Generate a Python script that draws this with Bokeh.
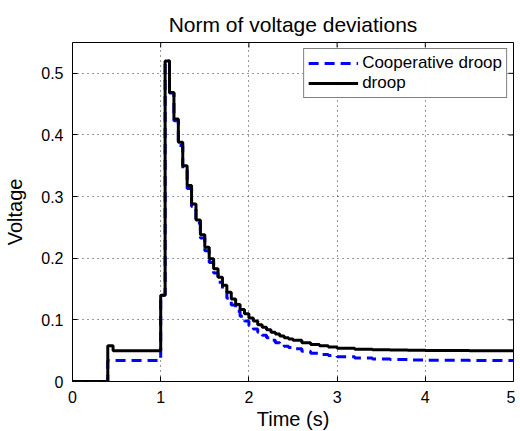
import math
from bokeh.plotting import figure
from bokeh.models import Range1d, FixedTicker, Legend, Title
from bokeh.embed import file_html
from bokeh.resources import INLINE

# ---- data ----
t_droop = [0.0, 0.40, 0.46, 1.00, 1.05, 1.10, 1.15, 1.20, 1.25, 1.30, 1.35, 1.40,
           1.45, 1.50, 1.55, 1.60, 1.65, 1.70, 1.75, 1.80, 1.85, 1.90, 1.95, 2.00,
           2.05, 2.10, 2.15, 2.20, 2.25, 2.30, 2.35, 2.40, 2.45, 2.50, 2.60, 2.70,
           2.80, 2.90, 3.00, 3.20, 3.40, 3.60, 3.80, 4.00, 4.50, 5.00]
v_droop = [0.0, 0.058, 0.050, 0.140, 0.520, 0.469, 0.426, 0.388, 0.350, 0.318, 0.288, 0.262,
           0.238, 0.218, 0.199, 0.183, 0.169, 0.156, 0.145, 0.134, 0.125, 0.117, 0.110, 0.103,
           0.098, 0.092, 0.088, 0.084, 0.080, 0.077, 0.074, 0.071, 0.069, 0.067, 0.063, 0.060,
           0.058, 0.056, 0.054, 0.0525, 0.0515, 0.051, 0.0505, 0.0502, 0.050, 0.050]

t_coop = [0.0, 0.40, 1.00, 1.05, 1.10, 1.15, 1.20, 1.25, 1.30, 1.35, 1.40,
          1.45, 1.50, 1.55, 1.60, 1.65, 1.70, 1.75, 1.80, 1.85, 1.90, 1.95, 2.00,
          2.05, 2.10, 2.15, 2.20, 2.25, 2.30, 2.35, 2.40, 2.45, 2.50, 2.60, 2.70,
          2.80, 2.90, 3.00, 3.20, 3.40, 3.60, 3.80, 4.00, 4.50, 5.00]
v_coop = [0.0, 0.034, 0.140, 0.520, 0.468, 0.423, 0.383, 0.346, 0.313, 0.284, 0.257,
          0.233, 0.212, 0.193, 0.176, 0.161, 0.147, 0.135, 0.124, 0.114, 0.106, 0.098, 0.091,
          0.085, 0.080, 0.075, 0.071, 0.067, 0.063, 0.060, 0.057, 0.055, 0.053, 0.049, 0.046,
          0.044, 0.042, 0.040, 0.038, 0.0365, 0.0355, 0.035, 0.0345, 0.034, 0.034]

x_ticks = [0, 1, 2, 3, 4, 5]
y_ticks = [0, 0.1, 0.2, 0.3, 0.4, 0.5]
y_tick_labels = ["0", "0.1", "0.2", "0.3", "0.4", "0.5"]
x_max = 5
y_max = 0.55

FONT = "Liberation Sans"

p = figure(width=515, height=431, output_backend="svg", toolbar_location=None,
           x_range=Range1d(0, x_max), y_range=Range1d(0, y_max),
           min_border_left=72, min_border_right=2, min_border_top=42, min_border_bottom=50,
           title="Norm of voltage deviations")
p.background_fill_color = "white"
p.border_fill_color = "white"
p.outline_line_color = "black"
p.outline_line_width = 1

p.title.text_font = FONT
p.title.text_font_size = "21px"
p.title.text_font_style = "normal"
p.title.align = "center"
p.title.text_color = "black"
p.title.standoff = 13

# grid
for g in (p.xgrid, p.ygrid):
    g.grid_line_color = "#333333"
    g.grid_line_dash = "1 4"
    g.grid_line_width = 1
p.xgrid.ticker = FixedTicker(ticks=x_ticks)
p.ygrid.ticker = FixedTicker(ticks=y_ticks)

# main axes
xa = p.xaxis[0]
ya = p.yaxis[0]
xa.ticker = FixedTicker(ticks=x_ticks)
ya.ticker = FixedTicker(ticks=y_ticks)
ya.major_label_overrides = {t: l for t, l in zip(y_ticks, y_tick_labels)}
xa.major_label_overrides = {t: str(t) for t in x_ticks}
for ax in (xa, ya):
    ax.axis_line_color = None
    ax.major_tick_in = 5
    ax.major_tick_out = 0
    ax.major_tick_line_color = "black"
    ax.minor_tick_line_color = None
    ax.major_label_text_font = FONT
    ax.major_label_text_font_size = "16px"
    ax.major_label_text_color = "black"
    ax.axis_label_text_font = FONT
    ax.axis_label_text_font_size = "20px"
    ax.axis_label_text_font_style = "normal"
    ax.axis_label_text_color = "black"
xa.major_label_standoff = 9
ya.axis_label = "Voltage"
ya.major_label_standoff = 9
ya.axis_label_standoff = 12

# x-axis title in the panel below the axis
x_title = Title(text="Time (s)", align="center", text_font=FONT, text_font_size="20px",
                text_font_style="normal", text_color="black", standoff=0, offset=0)
p.add_layout(x_title, "below")

# mirror ticks on top and right (inward, 5 px)
p.ray(x=x_ticks, y=[y_max] * len(x_ticks), length=5, length_units="screen",
      angle=-math.pi / 2, line_color="black", line_width=1)
p.ray(x=[x_max] * len(y_ticks), y=y_ticks, length=5, length_units="screen",
      angle=math.pi, line_color="black", line_width=1)

r_coop = p.step(t_coop, v_coop, mode="after", line_color="blue", line_width=3,
                line_dash="10 6")
r_droop = p.step(t_droop, v_droop, mode="after", line_color="black", line_width=3)

legend = Legend(items=[("Cooperative droop", [r_coop]), ("droop", [r_droop])],
                location="top_right")
legend.label_text_font = FONT
legend.label_text_font_size = "17px"
legend.label_text_color = "black"
legend.border_line_color = "black"
legend.border_line_width = 1
legend.glyph_width = 50
legend.glyph_height = 20
legend.label_height = 20
legend.spacing = 0
legend.padding = 4
legend.margin = 6
legend.label_standoff = 4
p.add_layout(legend)

open("out.html", "w").write(file_html(p, INLINE))
